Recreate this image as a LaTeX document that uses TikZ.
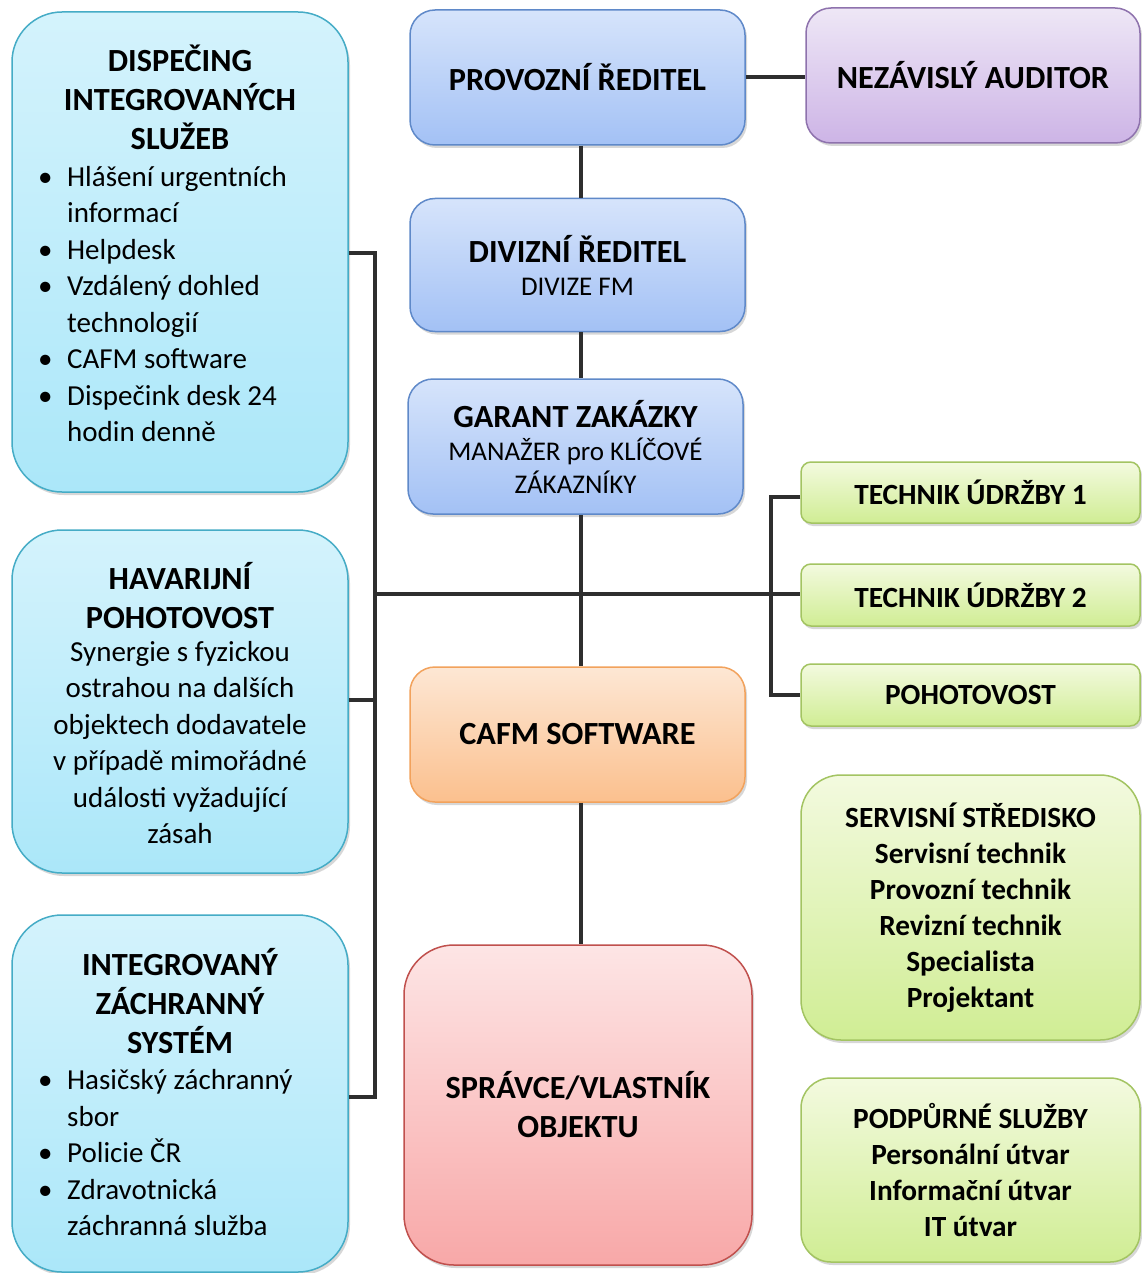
\documentclass[tikz,border=0pt]{standalone}
\usepackage{fontspec}
\setmainfont{Carlito}
\usetikzlibrary{shadows}
\definecolor{bluetop}{HTML}{D6E4FB}
\definecolor{bluebot}{HTML}{A3C1F5}
\definecolor{blueline}{HTML}{5F89C9}
\definecolor{cyantop}{HTML}{D4F3FC}
\definecolor{cyanbot}{HTML}{ABE7F9}
\definecolor{cyanline}{HTML}{45ACC6}
\definecolor{purtop}{HTML}{EEE7F6}
\definecolor{purbot}{HTML}{CDB4E6}
\definecolor{purline}{HTML}{8E72AD}
\definecolor{ortop}{HTML}{FDE7D4}
\definecolor{orbot}{HTML}{FBC08E}
\definecolor{orline}{HTML}{F2A25C}
\definecolor{pinktop}{HTML}{FDE5E5}
\definecolor{pinkbot}{HTML}{F8A8A8}
\definecolor{pinkline}{HTML}{C0504D}
\definecolor{greentop}{HTML}{F3FADF}
\definecolor{greenbot}{HTML}{D0ED94}
\definecolor{greenline}{HTML}{A3C462}
\newcommand\bul{\makebox[29pt][l]{\textbullet}}
\newcommand\ind{\hspace*{29pt}}
\newcommand\tsz{\fontsize{32.3}{39}\selectfont\bfseries}
\newcommand\ssz{\fontsize{27}{33}\selectfont}
\begin{document}
\begin{tikzpicture}[x=1pt,y=-1pt,
  every node/.style={font=\fontsize{29}{36.5}\selectfont, inner sep=0pt, align=center},
  card/.style={draw, line width=1.5pt, rounded corners=#1,
    drop shadow={shadow xshift=2pt, shadow yshift=-3pt, opacity=0.22, fill=black!70}},
  bluecard/.style={card=#1, shading=axis, top color=bluetop, bottom color=bluebot, draw=blueline},
  cyancard/.style={card=#1, shading=axis, top color=cyantop, bottom color=cyanbot, draw=cyanline},
  purcard/.style={card=#1, shading=axis, top color=purtop, bottom color=purbot, draw=purline},
  orcard/.style={card=#1, shading=axis, top color=ortop, bottom color=orbot, draw=orline},
  pinkcard/.style={card=#1, shading=axis, top color=pinktop, bottom color=pinkbot, draw=pinkline},
  greencard/.style={card=#1, shading=axis, top color=greentop, bottom color=greenbot, draw=greenline},
  title/.style={font=\tsz},
  sub/.style={font=\ssz},
  bold/.style={font=\fontsize{29.3}{36}\selectfont\bfseries},
  list/.style={align=left, anchor=west},
  conn/.style={line width=4pt, draw=black!82, line join=miter}
]
\fill[white] (0,0) rectangle (1141,1273);
\useasboundingbox (0,0) rectangle (1141,1273);

% left column
\node[cyancard=50pt, minimum width=336pt, minimum height=480pt] (disp) at (180,252) {};
\node[title] (dispt) at (180,97) {DISPEČING\\INTEGROVANÝCH\\SLUŽEB};
\node[list] (displ) at (38,304) {\bul Hlášení urgentních\\\ind informací\\\bul Helpdesk\\\bul Vzdálený dohled\\\ind technologií\\\bul CAFM software\\\bul Dispečink desk 24\\\ind hodin denně};

\node[cyancard=50pt, minimum width=336pt, minimum height=343pt] (hav) at (180,701.5) {};
\node[title] (havt) at (180,596) {HAVARIJNÍ\\POHOTOVOST};
\node (havb) at (180,742.5) {Synergie s fyzickou\\ostrahou na dalších\\objektech dodavatele\\v případě mimořádné\\události vyžadující\\zásah};

\node[cyancard=50pt, minimum width=336pt, minimum height=357pt] (izs) at (180,1093.5) {};
\node[title] (izst) at (180,1001) {INTEGROVANÝ\\ZÁCHRANNÝ\\SYSTÉM};
\node[list] (izsl) at (38,1153) {\bul Hasičský záchranný\\\ind sbor\\\bul Policie ČR\\\bul Zdravotnická\\\ind záchranná služba};

% centre column
\node[bluecard=25pt, minimum width=335pt, minimum height=135pt, title] (prov) at (577.5,77.5) {PROVOZNÍ ŘEDITEL};
\node[bluecard=25pt, minimum width=335pt, minimum height=133pt, sub] (div) at (577.5,265) {{\tsz DIVIZNÍ ŘEDITEL}\\DIVIZE FM};
\node[bluecard=25pt, minimum width=335pt, minimum height=135pt, sub] (gar) at (575.5,446.5) {{\tsz GARANT ZAKÁZKY}\\MANAŽER pro KLÍČOVÉ\\ZÁKAZNÍKY};
\node[orcard=25pt, minimum width=335pt, minimum height=135pt, title] (cafm) at (577.5,734.5) {CAFM SOFTWARE};
\node[pinkcard=50pt, minimum width=348pt, minimum height=320pt, title] (spr) at (578,1105) {SPRÁVCE/VLASTNÍK\\OBJEKTU};

% right column
\node[purcard=25pt, minimum width=334pt, minimum height=135pt, title] (aud) at (973,75.5) {NEZÁVISLÝ AUDITOR};
\node[greencard=10pt, minimum width=339pt, minimum height=61pt, bold] (t1) at (970.5,492.5) {TECHNIK ÚDRŽBY 1};
\node[greencard=10pt, minimum width=339pt, minimum height=62pt, bold] (t2) at (970.5,595) {TECHNIK ÚDRŽBY 2};
\node[greencard=10pt, minimum width=339pt, minimum height=62pt, bold] (poh) at (970.5,695) {POHOTOVOST};
\node[greencard=40pt, minimum width=339pt, minimum height=265pt, bold] (serv) at (970.5,907.5) {SERVISNÍ STŘEDISKO\\Servisní technik\\Provozní technik\\Revizní technik\\Specialista\\Projektant};
\node[greencard=30pt, minimum width=339pt, minimum height=184pt, bold] (podp) at (970.5,1170) {PODPŮRNÉ SLUŽBY\\Personální útvar\\Informační útvar\\IT útvar};

% connector coordinates
\coordinate (sp) at (581,0);
\coordinate (b1) at (375,253);
\coordinate (b2) at (375,700);
\coordinate (b3) at (375,1097);
\coordinate (b4) at (375,594);
\coordinate (r1) at (771,497);
\coordinate (r2) at (771,695);

% connectors
\draw[conn] (prov.east) -- (prov.east -| aud.west);
\draw[conn] (prov.south -| sp) -- (div.north -| sp);
\draw[conn] (div.south -| sp) -- (gar.north -| sp);
\draw[conn] (gar.south -| sp) -- (cafm.north -| sp);
\draw[conn] (cafm.south -| sp) -- (spr.north -| sp);
\draw[conn] (disp.east |- b1) -- (b1) -- (b3) -- (izs.east |- b3);
\draw[conn] (hav.east |- b2) -- (b2);
\draw[conn] (b4) -- (t2.west |- b4);
\draw[conn] (t1.west |- r1) -- (r1) -- (r2) -- (poh.west |- r2);
\end{tikzpicture}
\end{document}
